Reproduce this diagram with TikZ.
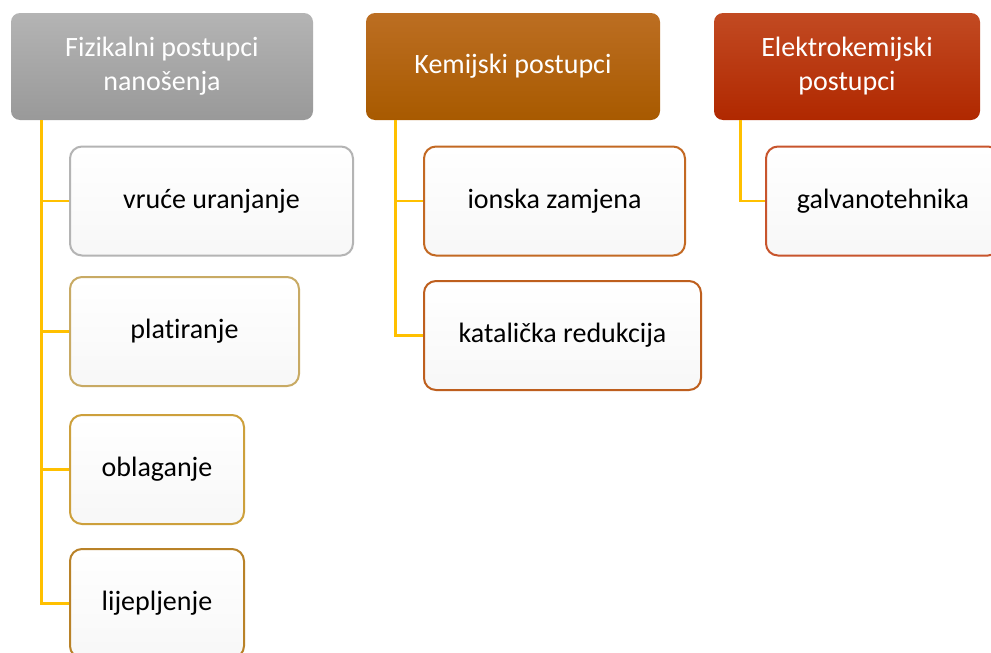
\documentclass[tikz,border=0pt]{standalone}
\usepackage{fontspec}
\setmainfont{Carlito}[Ligatures=NoCommon]
\usepackage{tikz}
\definecolor{link_gold}{HTML}{FFC000}
\definecolor{gray_top}{HTML}{B4B4B4}
\definecolor{gray_bot}{HTML}{999999}
\definecolor{brown_top}{HTML}{BC6E22}
\definecolor{brown_bot}{HTML}{A85A00}
\definecolor{red_top}{HTML}{C24A22}
\definecolor{red_bot}{HTML}{B02800}
\definecolor{vru_edge}{HTML}{B4B4B4}
\definecolor{pla_edge}{HTML}{C8AA64}
\definecolor{obl_edge}{HTML}{CDA03C}
\definecolor{lij_edge}{HTML}{B98228}
\definecolor{ion_edge}{HTML}{C36923}
\definecolor{kat_edge}{HTML}{BE5F1E}
\definecolor{gal_edge}{HTML}{C8552D}
\tikzset{
    head_box/.style = {
        rounded corners=9pt,
        text=white,
        align=center,
        minimum height=107pt,
        inner sep=0pt,
        font=\fontsize{28}{34}\selectfont
    },
    item_box/.style = {
        draw=#1,
        line width=2pt,
        rounded corners=12pt,
        top color=white,
        bottom color=black!3,
        align=center,
        minimum height=109pt,
        inner sep=0pt,
        font=\fontsize{28}{34}\selectfont
    },
    link_line/.style = {
        draw=link_gold,
        line width=2.8pt
    },
}

\begin{document}
\begin{tikzpicture}[x=1pt,y=-1pt]
                \useasboundingbox[fill=white] (0,0) rectangle (991,653);

                % headers
                \node[head_box, top color=gray_top, bottom color=gray_bot, minimum width=302pt] (fiz) at (162, 66.5) {Fizikalni postupci\\nanošenja};
                \node[head_box, top color=brown_top, bottom color=brown_bot, minimum width=294pt] (kem) at (513, 66.5) {Kemijski postupci};
                \node[head_box, top color=red_top, bottom color=red_bot, minimum width=266pt] (ele) at (847, 66.5) {Elektrokemijski\\postupci};

                % first column
                \node[item_box=vru_edge, minimum width=283pt] (vru) at (211.5, 201) {vruće uranjanje};
                \node[item_box=pla_edge, minimum width=229pt] (pla) at (184.5, 331.5) {platiranje};
                \node[item_box=obl_edge, minimum width=174pt] (obl) at (157, 469.5) {oblaganje};
                \node[item_box=lij_edge, minimum width=174pt] (lij) at (157, 603.5) {lijepljenje};

                % second column
                \node[item_box=ion_edge, minimum width=261pt] (ion) at (554.5, 201) {ionska zamjena};
                \node[item_box=kat_edge, minimum width=277pt] (kat) at (562.5, 335.5) {katalička redukcija};

                % third column
                \node[item_box=gal_edge, minimum width=234pt] (gal) at (883, 201) {galvanotehnika};

                \path[link_line] ([xshift=31pt]fiz.south west) |- (vru.west);
                \path[link_line] ([xshift=31pt]fiz.south west) |- (pla.west);
                \path[link_line] ([xshift=31pt]fiz.south west) |- (obl.west);
                \path[link_line] ([xshift=31pt]fiz.south west) |- (lij.west);

                \path[link_line] ([xshift=30pt]kem.south west) |- (ion.west);
                \path[link_line] ([xshift=30pt]kem.south west) |- (kat.west);

                \path[link_line] ([xshift=27pt]ele.south west) |- (gal.west);
            \end{tikzpicture}
\end{document}
